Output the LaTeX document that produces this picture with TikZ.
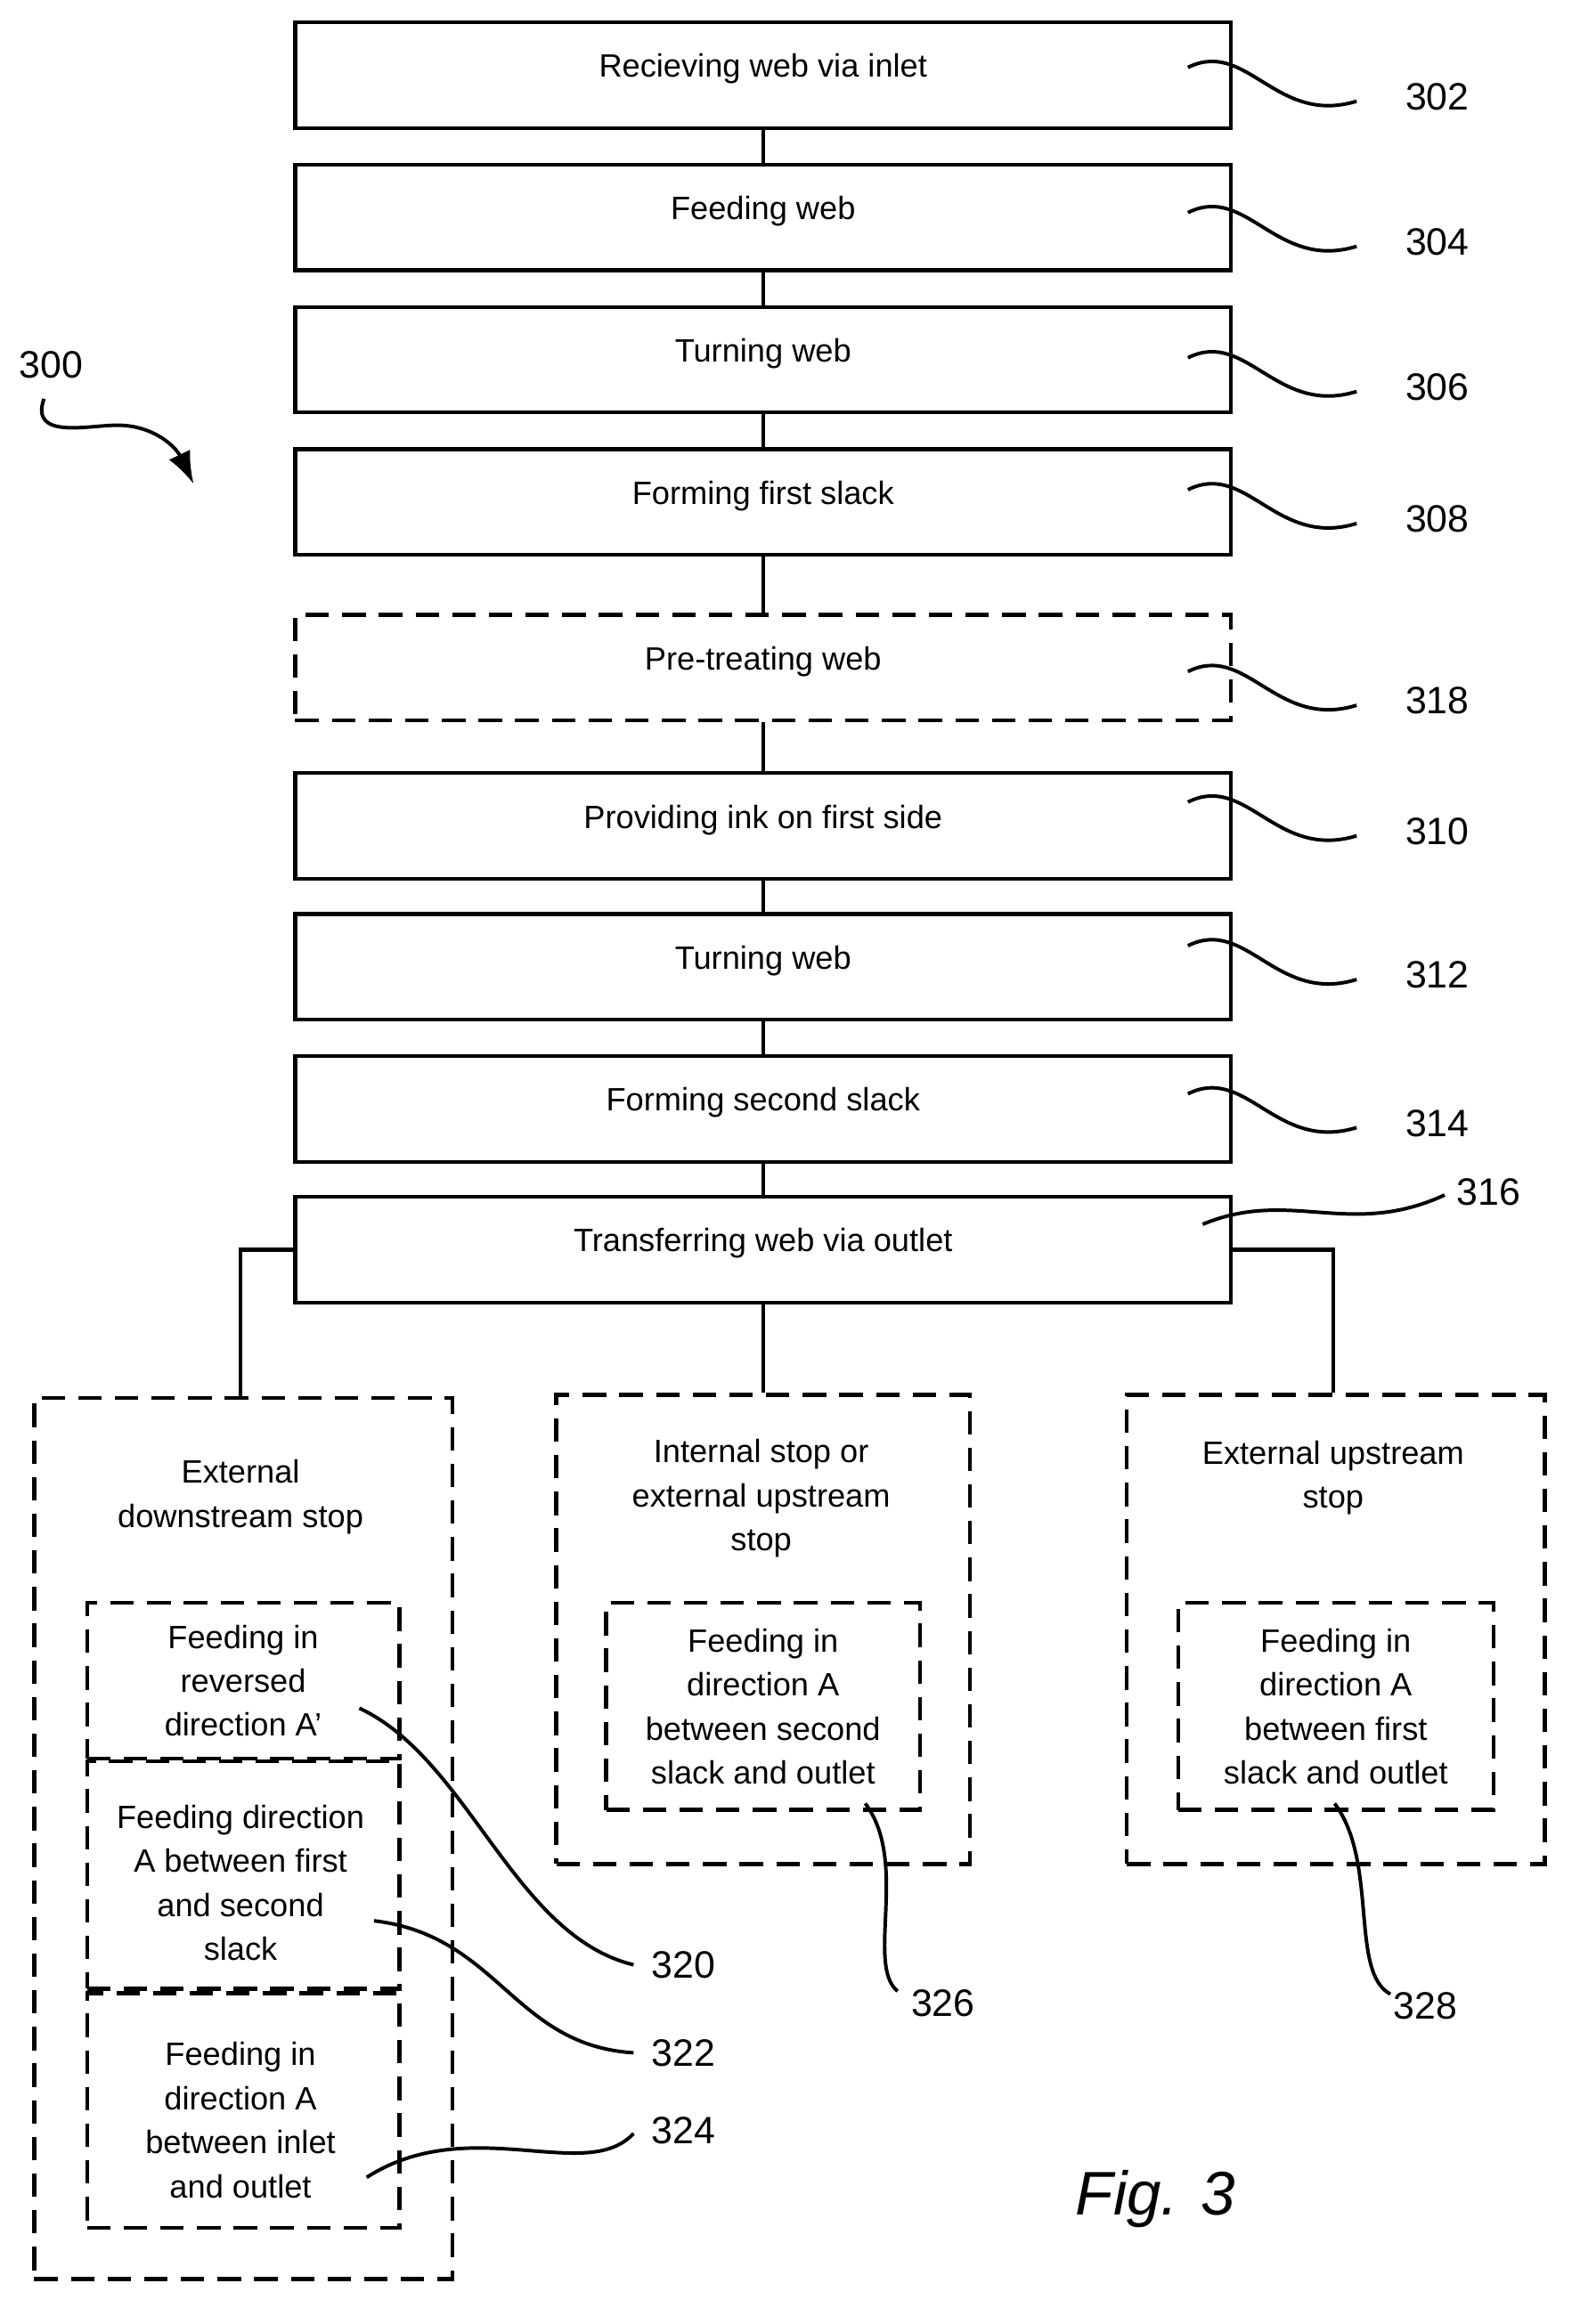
\documentclass[tikz,border=0pt]{standalone}
\usetikzlibrary{arrows.meta}
\usepackage{fontspec}
\setmainfont{Liberation Sans}
\begin{document}
\begin{tikzpicture}[x=1pt,y=-1pt,line width=2.6pt,
 box/.style={draw,minimum width=638pt,minimum height=72pt,font=\fontsize{22}{26}\selectfont,anchor=north west},
 dbox/.style={box,dash pattern=on 16pt off 9pt},
 dd/.style={draw,dash pattern=on 16pt off 9pt,font=\fontsize{22}{29}\selectfont,align=center},
 lab/.style={font=\fontsize{26}{30}\selectfont},
 lead/.style={line width=2.4pt}]
\useasboundingbox (0,0) rectangle (1077,1585);
\node[box] (b302) at (200,14) {\raisebox{13pt}{Recieving web via inlet}};
\node[box] (b304) at (200,111) {\raisebox{13pt}{Feeding web}};
\node[box] (b306) at (200,208) {\raisebox{13pt}{Turning web}};
\node[box] (b308) at (200,305) {\raisebox{13pt}{Forming first slack}};
\node[dbox] (b318) at (200,418) {\raisebox{13pt}{Pre-treating web}};
\node[box] (b310) at (200,526) {\raisebox{13pt}{Providing ink on first side}};
\node[box] (b312) at (200,622) {\raisebox{13pt}{Turning web}};
\node[box] (b314) at (200,719) {\raisebox{13pt}{Forming second slack}};
\node[box] (b316) at (200,815) {\raisebox{13pt}{Transferring web via outlet}};
\foreach \a/\b in {b302/b304,b304/b306,b306/b308,b308/b318,b318/b310,b310/b312,b312/b314,b314/b316}
  \draw (\a.south) -- (\b.north);
% bottom outer boxes
\node[dd,minimum width=285pt,minimum height=601pt,anchor=north west] (L) at (22,952) {};
\node[dd,minimum width=282pt,minimum height=320pt,anchor=north west] (M) at (378,950) {};
\node[dd,minimum width=285pt,minimum height=320pt,anchor=north west] (R) at (767,950) {};
\node[font=\fontsize{22}{30}\selectfont,align=center] (tL) at (164,1021) {External\\downstream stop};
\node[font=\fontsize{22}{30}\selectfont,align=center] (tM) at (519,1022) {Internal stop or\\external upstream\\stop};
\node[font=\fontsize{22}{30}\selectfont,align=center] (tR) at (909,1008) {External upstream\\stop};
\node[dd,minimum width=213pt,minimum height=106pt,anchor=north west] (L1) at (58,1092) {};
\node[font=\fontsize{22}{30}\selectfont,align=center] at (L1.center) {Feeding in\\reversed\\direction A’};
\node[dd,minimum width=213pt,minimum height=155pt,anchor=north west] (L2) at (58,1200) {};
\node[font=\fontsize{22}{30}\selectfont,align=center] at (164,1284) {Feeding direction\\A between first\\and second\\slack};
\node[dd,minimum width=213pt,minimum height=160pt,anchor=north west] (L3) at (58,1358) {};
\node[font=\fontsize{22}{30}\selectfont,align=center] at (164,1446) {Feeding in\\direction A\\between inlet\\and outlet};
\node[dd,minimum width=214pt,minimum height=141pt,anchor=north west] (M1) at (412,1092) {};
\node[font=\fontsize{22}{30}\selectfont,align=center] at (M1.center) {Feeding in\\direction A\\between second\\slack and outlet};
\node[dd,minimum width=215pt,minimum height=141pt,anchor=north west] (R1) at (802,1092) {};
\node[font=\fontsize{22}{30}\selectfont,align=center] at (R1.center) {Feeding in\\direction A\\between first\\slack and outlet};
% branch connectors
\draw (b316.west) -| (L.north -| 164,0);
\draw (b316.south) -- (M.north);
\draw (b316.east) -| (R.north -| 909,0);
% labels
\foreach \n/\y in {302/66,304/165,306/264,308/354,318/478,310/567,312/665,314/766}{
  \node[lab] (l\n) at (980,\y) {\n};
  \draw[lead] (810,\y-20) .. controls (850,\y-40) and (870,\y+20) .. (925,\y+3);
}
\node[lab] (l316) at (1015,813) {316};
\draw[lead] (820,835) .. controls (880,810) and (920,845) .. (985,815);
\node[lab] (l320) at (466,1340) {320};
\draw[lead] (245,1165) .. controls (320,1200) and (350,1320) .. (432,1340);
\node[lab] (l322) at (466,1400) {322};
\draw[lead] (255,1310) .. controls (340,1320) and (350,1395) .. (432,1400);
\node[lab] (l324) at (466,1453) {324};
\draw[lead] (250,1485) .. controls (320,1440) and (400,1490) .. (432,1455);
\node[lab] (l326) at (643,1366) {326};
\draw[lead] (590,1230) .. controls (620,1270) and (590,1340) .. (612,1358);
\node[lab] (l328) at (972,1368) {328};
\draw[lead] (910,1230) .. controls (940,1270) and (920,1345) .. (948,1360);
\node[lab] (l300) at (35,249) {300};
\draw[lead,-{Latex[length=22pt,width=16pt]}] (30,272) .. controls (20,300) and (60,290) .. (80,290) .. controls (105,290) and (120,305) .. (132,330);
\node[font=\itshape\fontsize{42}{46}\selectfont] (fig) at (788,1500) {Fig. 3};
\end{tikzpicture}
\end{document}
